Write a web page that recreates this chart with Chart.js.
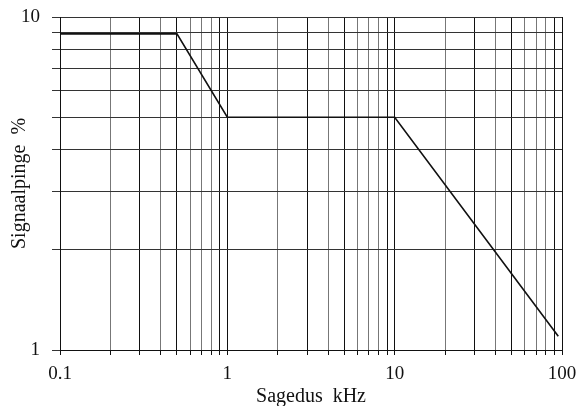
<!DOCTYPE html>
<html>
<head>
<meta charset="utf-8">
<script src="https://cdn.jsdelivr.net/npm/chart.js@4/dist/chart.umd.min.js"></script>
<style>
  html, body { margin: 0; padding: 0; background: #fff; }
  #wrap { width: 579px; height: 406px; }
</style>
</head>
<body>
<div id="wrap"><canvas id="c" width="579" height="406"></canvas></div>
<script>
// Data (log-log axes)
const freqKHz = [0.1, 0.5, 1, 10, 95];
const signalPct = [8.9, 8.9, 5, 5, 1.1];
const xGridValues = [0.1, 0.2, 0.3, 0.4, 0.5, 0.6, 0.7, 0.8, 0.9,
                     1, 2, 3, 4, 5, 6, 7, 8, 9,
                     10, 20, 30, 40, 50, 60, 70, 80, 90, 100];
const yGridValues = [1, 2, 3, 4, 5, 6, 7, 8, 9, 10];
const xTickLabels = [0.1, 1, 10, 100];
const yTickLabels = [1, 10];
const xTitle = 'Sagedus  kHz';
const yTitle = 'Signaalpinge  %';

const points = freqKHz.map((x, i) => ({ x: x, y: signalPct[i] }));
const isLabel = (v, list) => list.some(t => Math.abs(Math.log10(v) - Math.log10(t)) < 1e-6);
const font = 'Liberation Serif';

// vertical grid shade pattern (mantissa 1..9)
function vColor(ctx) {
  const v = ctx.tick ? ctx.tick.value : 1;
  const m = Math.round(v / Math.pow(10, Math.floor(Math.log10(v) + 1e-9)));
  return [1, 3, 5, 9].includes(m) ? '#111' : '#777';
}

new Chart(document.getElementById('c'), {
  type: 'line',
  data: {
    datasets: [{
      data: points,
      borderColor: '#111',
      borderWidth: 1.6,
      pointRadius: 0,
      fill: false,
      tension: 0
    }]
  },
  options: {
    responsive: false,
    animation: false,
    devicePixelRatio: 1,
    layout: { padding: { top: 17, right: 17, left: 0, bottom: 0 } },
    plugins: { legend: { display: false }, tooltip: { enabled: false } },
    scales: {
      x: {
        type: 'logarithmic',
        min: 0.1, max: 100,
        afterBuildTicks: (s) => { s.ticks = xGridValues.map(v => ({ value: v })); },
        border: { display: true, color: '#111', width: 1 },
        grid: { color: vColor, lineWidth: 1, drawTicks: true, tickLength: 5, tickColor: '#111' },
        ticks: {
          autoSkip: false, maxRotation: 0, padding: 8,
          color: '#111',
          font: { family: font, size: 19 },
          callback: (v) => isLabel(v, xTickLabels) ? String(v) : ''
        },
        title: {
          display: true, text: xTitle, color: '#111',
          font: { family: font, size: 20 },
          padding: { top: 0, bottom: -3 }
        },
        afterFit: (s) => { s.height = 56; s.paddingLeft = 0; s.paddingRight = 0; }
      },
      y: {
        type: 'logarithmic',
        min: 1, max: 10,
        afterBuildTicks: (s) => { s.ticks = yGridValues.map(v => ({ value: v })); },
        border: { display: true, color: '#111', width: 1 },
        grid: { color: '#333', lineWidth: 1, drawTicks: true, tickLength: 8, tickColor: '#333' },
        ticks: {
          autoSkip: false, padding: 12,
          color: '#111',
          font: { family: font, size: 19 },
          callback: (v) => isLabel(v, yTickLabels) ? String(v) : ''
        },
        title: {
          display: true, text: yTitle, color: '#111',
          font: { family: font, size: 20 },
          padding: { top: 8, bottom: 0 }
        },
        afterFit: (s) => { s.width = 60; s.paddingTop = 0; s.paddingBottom = 0; }
      }
    }
  }
});
</script>
</body>
</html>
